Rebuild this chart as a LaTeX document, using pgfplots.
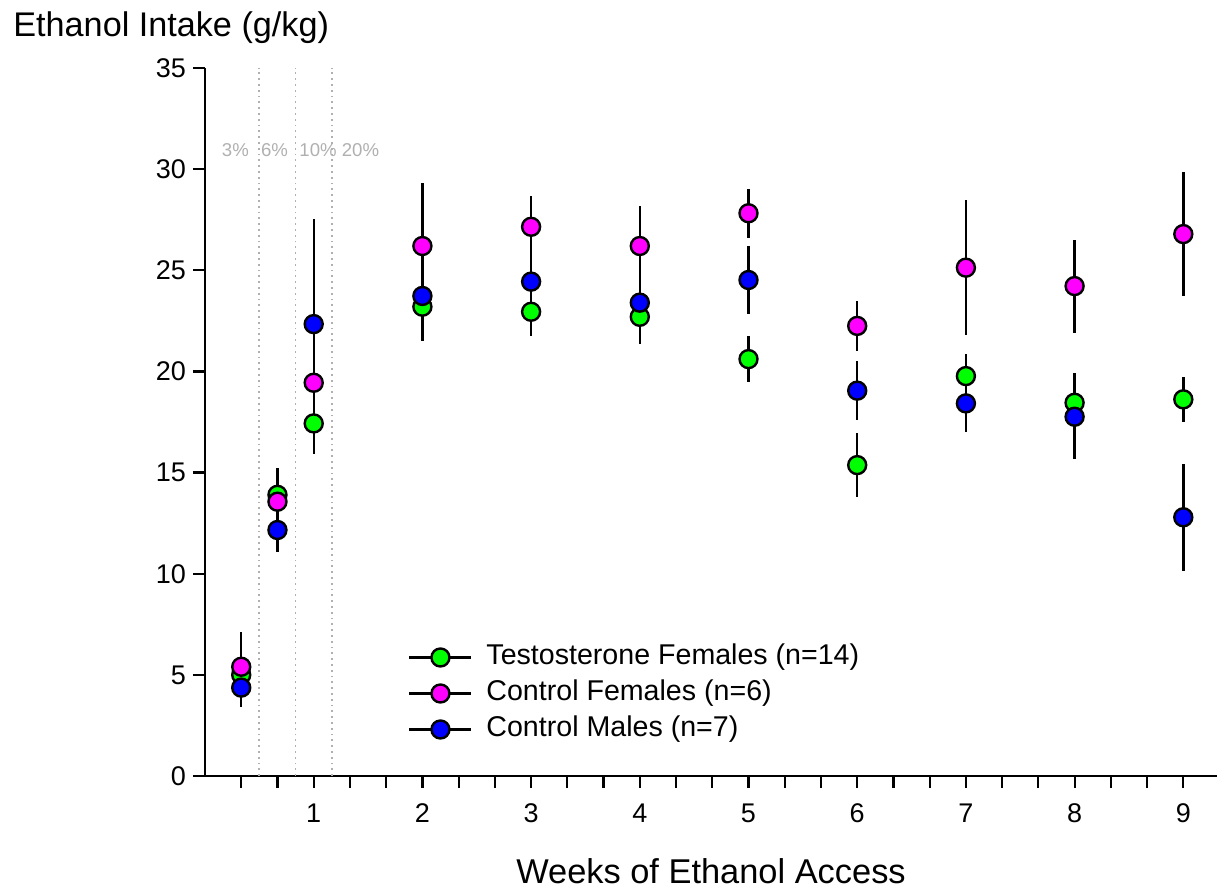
\documentclass[border=0pt]{standalone}
\usepackage{fontspec}
\setmainfont{Liberation Sans}
\usepackage{pgfplots}
\usepackage{pgfplotstable}
\pgfplotsset{compat=1.18}

\definecolor{tgreen}{HTML}{00FF00}
\definecolor{cmag}{HTML}{FF00FF}
\definecolor{cblue}{HTML}{0000FF}
\definecolor{pctgray}{HTML}{B0B0B0}

% x: weeks of access (0.333 = 3%, 0.667 = 6%, 1 = 10%, then 20%)
\pgfplotstableread{
x y e
0.3333 5.00 0.40
0.6667 13.90 1.35
1 17.43 1.50
2 23.20 1.70
3 22.95 1.22
4 22.70 1.35
5 20.61 1.15
6 15.37 1.60
7 19.77 1.08
8 18.45 1.45
9 18.62 1.10
}\testf

\pgfplotstableread{
x y e
0.3333 5.40 1.73
0.6667 13.56 1.00
1 19.44 2.00
2 26.20 3.10
3 27.15 1.50
4 26.20 2.00
5 27.82 1.20
6 22.25 1.25
7 25.13 3.35
8 24.22 2.30
9 26.79 3.05
}\ctrlf

\pgfplotstableread{
x y e
0.3333 4.37 0.95
0.6667 12.16 1.07
1 22.34 5.20
2 23.73 1.50
3 24.44 1.50
4 23.40 1.50
5 24.52 1.70
6 19.05 1.45
7 18.42 1.40
8 17.76 2.10
9 12.79 2.65
}\ctrlm

\begin{document}
\begin{tikzpicture}
\path[use as bounding box] (-102.5pt,-59pt) rectangle (506pt,388pt);
\begin{axis}[
  scale only axis,
  width=506pt, height=354pt,
  xmin=0, xmax=9.31,
  ymin=0, ymax=35,
  axis x line*=bottom,
  axis y line*=left,
  axis line style={line width=1.2pt},
  xtick={1,2,3,4,5,6,7,8,9},
  minor xtick={0.3333,0.6667,1.3333,1.6667,2.3333,2.6667,3.3333,3.6667,4.3333,4.6667,5.3333,5.6667,6.3333,6.6667,7.3333,7.6667,8.3333,8.6667},
  ytick={0,5,...,35},
  tick align=outside,
  major tick length=6pt,
  minor tick length=6pt,
  tick style={black, line width=1.1pt},
  every tick label/.append style={font=\fontsize{13.5}{16}\selectfont},
  /pgf/number format/assume math mode=true,
  xticklabel style={yshift=-4.5pt},
  xlabel={Weeks of Ethanol Access},
  xlabel style={font=\fontsize{17.2}{20}\selectfont, at={(axis description cs:0.5,0)}, anchor=base, yshift=-54pt},
  clip=false,
  legend style={at={(axis cs:1.867,6.62)}, anchor=north west, draw=none, fill=none,
    font=\fontsize{14.3}{17}\selectfont, inner sep=0pt,
    nodes={inner sep=0.5pt, text height=10.5pt, text depth=3.5pt},
    row sep=3pt},
  legend cell align=left,
  legend image code/.code={
    \draw[black, line width=1.1pt] (0pt,0pt) -- (31pt,0pt);
    \path[draw=none, fill=none] (31pt,0pt) -- (38pt,0pt);
    \draw[mark repeat=2, mark phase=2, #1] plot coordinates {(0pt,0pt) (15.5pt,0pt) (31pt,0pt)};
  },
  every axis plot/.append style={only marks, mark=*, mark size=4.5pt},
  error bars/y dir=both, error bars/y explicit,
  error bars/error mark=none,
  error bars/error bar style={black, line width=1.2pt},
]
% ethanol concentration separators
\draw[pctgray, dotted, line width=0.9pt] (axis cs:0.5,0) -- (axis cs:0.5,35);
\draw[pctgray, dotted, line width=0.9pt] (axis cs:0.8333,0) -- (axis cs:0.8333,35);
\draw[pctgray, dotted, line width=0.9pt] (axis cs:1.1667,0) -- (axis cs:1.1667,35);
\node[pctgray, font=\fontsize{9.3}{11}\selectfont] at (axis cs:0.28,30.95) {3\%};
\node[pctgray, font=\fontsize{9.3}{11}\selectfont] at (axis cs:0.64,30.95) {6\%};
\node[pctgray, font=\fontsize{9.3}{11}\selectfont] at (axis cs:1.04,30.95) {10\%};
\node[pctgray, font=\fontsize{9.3}{11}\selectfont] at (axis cs:1.43,30.95) {20\%};

\addplot[mark options={fill=tgreen, draw=black, line width=1.2pt}] table[x=x, y=y, y error=e] {\testf};
\addlegendentry{Testosterone Females (n=14)}
\addplot[mark options={fill=cmag, draw=black, line width=1.2pt}] table[x=x, y=y, y error=e] {\ctrlf};
\addlegendentry{Control Females (n=6)}
\addplot[mark options={fill=cblue, draw=black, line width=1.2pt}] table[x=x, y=y, y error=e] {\ctrlm};
\addlegendentry{Control Males (n=7)}
\end{axis}
\node[anchor=base west, font=\fontsize{17.1}{20}\selectfont, inner sep=0pt] at (-96pt,369.5pt) {Ethanol Intake (g/kg)};
\end{tikzpicture}
\end{document}
